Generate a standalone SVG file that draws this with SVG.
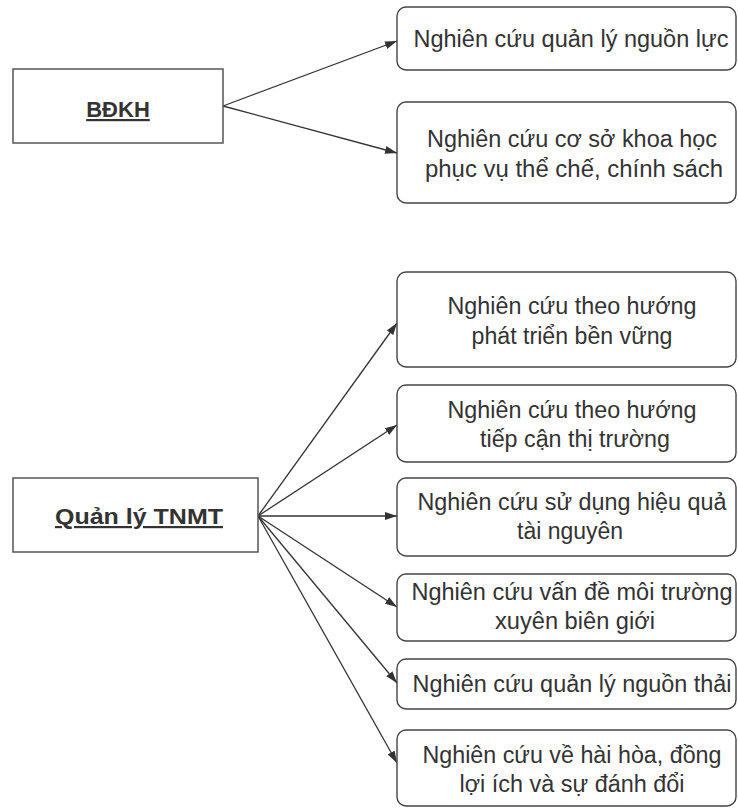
<svg xmlns="http://www.w3.org/2000/svg" width="738" height="809" viewBox="0 0 738 809">
<style>
.root{fill:#fff;stroke:#555;stroke-width:1.5}
.box{fill:#fff;stroke:#444;stroke-width:1.4}
.t{font-family:"Liberation Sans",Arial,sans-serif;font-size:23px;fill:#333;text-anchor:middle}
.h{font-family:"Liberation Sans",Arial,sans-serif;font-size:22px;font-weight:bold;fill:#333;text-anchor:middle;text-decoration:underline}
.c{stroke:#333;stroke-width:1.3;fill:none}
</style>
<defs>
<marker id="arr" markerUnits="userSpaceOnUse" markerWidth="12" markerHeight="8" refX="12" refY="4" orient="auto">
<path d="M0,0 L12,4 L0,8 z" fill="#333"/>
</marker>
</defs>
<rect width="738" height="809" fill="#fff"/>
<g id="connectors">
<line class="c" x1="223" y1="106" x2="397" y2="41" marker-end="url(#arr)"/>
<line class="c" x1="223" y1="106" x2="397" y2="153" marker-end="url(#arr)"/>
<line class="c" x1="258" y1="516" x2="397" y2="323" marker-end="url(#arr)"/>
<line class="c" x1="258" y1="516" x2="397" y2="425" marker-end="url(#arr)"/>
<line class="c" x1="258" y1="516" x2="397" y2="516" marker-end="url(#arr)"/>
<line class="c" x1="258" y1="516" x2="397" y2="607" marker-end="url(#arr)"/>
<line class="c" x1="258" y1="516" x2="397" y2="683" marker-end="url(#arr)"/>
<line class="c" x1="258" y1="516" x2="397" y2="763" marker-end="url(#arr)"/>
</g>
<g id="bdkh">
<rect class="root" x="13" y="69" width="210" height="74"/>
<text class="h" x="118" y="117">BĐKH</text>
</g>
<g id="qly">
<rect class="root" x="13" y="478" width="245" height="74"/>
<text class="h" x="139" y="524" textLength="168" lengthAdjust="spacingAndGlyphs">Quản lý TNMT</text>
</g>
<g id="n1">
<rect class="box" x="397" y="7" width="339" height="63" rx="9"/>
<text class="t" x="571" y="47" textLength="315" lengthAdjust="spacingAndGlyphs">Nghiên cứu quản lý nguồn lực</text>
</g>
<g id="n2">
<rect class="box" x="397" y="102" width="339" height="101" rx="9"/>
<text class="t" x="572" y="147" textLength="290" lengthAdjust="spacingAndGlyphs">Nghiên cứu cơ sở khoa học</text>
<text class="t" x="574" y="177" textLength="298" lengthAdjust="spacingAndGlyphs">phục vụ thể chế, chính sách</text>
</g>
<g id="nA">
<rect class="box" x="397" y="272" width="339" height="95" rx="9"/>
<text class="t" x="572" y="314" textLength="249" lengthAdjust="spacingAndGlyphs">Nghiên cứu theo hướng</text>
<text class="t" x="572" y="344" textLength="201" lengthAdjust="spacingAndGlyphs">phát triển bền vững</text>
</g>
<g id="nB">
<rect class="box" x="397" y="385" width="339" height="77" rx="9"/>
<text class="t" x="572" y="418" textLength="249" lengthAdjust="spacingAndGlyphs">Nghiên cứu theo hướng</text>
<text class="t" x="575" y="447" textLength="190" lengthAdjust="spacingAndGlyphs">tiếp cận thị trường</text>
</g>
<g id="nC">
<rect class="box" x="397" y="478" width="339" height="78" rx="9"/>
<text class="t" x="572" y="510" textLength="309" lengthAdjust="spacingAndGlyphs">Nghiên cứu sử dụng hiệu quả</text>
<text class="t" x="570" y="539" textLength="106" lengthAdjust="spacingAndGlyphs">tài nguyên</text>
</g>
<g id="nD">
<rect class="box" x="397" y="574" width="339" height="67" rx="9"/>
<text class="t" x="572" y="600" textLength="321" lengthAdjust="spacingAndGlyphs">Nghiên cứu vấn đề môi trường</text>
<text class="t" x="575" y="629" textLength="160" lengthAdjust="spacingAndGlyphs">xuyên biên giới</text>
</g>
<g id="nE">
<rect class="box" x="397" y="659" width="339" height="50" rx="9"/>
<text class="t" x="572" y="692" textLength="319" lengthAdjust="spacingAndGlyphs">Nghiên cứu quản lý nguồn thải</text>
</g>
<g id="nF">
<rect class="box" x="397" y="730" width="339" height="76" rx="9"/>
<text class="t" x="572" y="763" textLength="299" lengthAdjust="spacingAndGlyphs">Nghiên cứu về hài hòa, đồng</text>
<text class="t" x="572" y="792" textLength="225" lengthAdjust="spacingAndGlyphs">lợi ích và sự đánh đổi</text>
</g>
</svg>
